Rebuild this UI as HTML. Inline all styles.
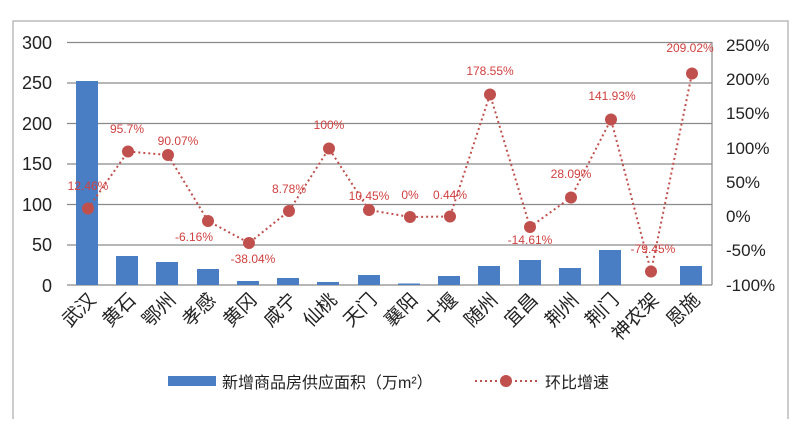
<!DOCTYPE html>
<html><head><meta charset="utf-8"><style>
body{margin:0;background:#fff;}
svg text{font-family:"Liberation Sans","Noto Sans CJK SC",sans-serif;}
</style></head><body>
<svg width="800" height="419" viewBox="0 0 800 419" xmlns="http://www.w3.org/2000/svg">
<rect x="0" y="0" width="800" height="419" fill="#fff"/>
<rect x="13" y="21" width="775" height="420" fill="none" stroke="#bbb" stroke-width="1.5"/>
<g stroke="#8a8a8a" stroke-width="1.2">
<line x1="67" y1="42.5" x2="712" y2="42.5"/>
<line x1="67" y1="83" x2="712" y2="83"/>
<line x1="67" y1="123.5" x2="712" y2="123.5"/>
<line x1="67" y1="164" x2="712" y2="164"/>
<line x1="67" y1="204.5" x2="712" y2="204.5"/>
<line x1="67" y1="245" x2="712" y2="245"/>
<line x1="67" y1="285" x2="712" y2="285"/>
<line x1="712" y1="42" x2="712" y2="285"/>
</g>
<g font-size="18" fill="#222" text-anchor="end">
<text x="52" y="49">300</text><text x="52" y="89">250</text><text x="52" y="130">200</text>
<text x="52" y="170">150</text><text x="52" y="211">100</text><text x="52" y="251">50</text><text x="52" y="292">0</text>
</g>
<g font-size="17" fill="#222">
<text x="726" y="51">250%</text><text x="726" y="85">200%</text><text x="726" y="119">150%</text>
<text x="726" y="154">100%</text><text x="726" y="188">50%</text><text x="726" y="222">0%</text>
<text x="726" y="256">-50%</text><text x="726" y="291">-100%</text>
</g>
<g fill="#4a7ec4">
<rect x="76" y="81" width="22" height="204"/>
<rect x="116" y="256" width="22" height="29"/>
<rect x="156" y="262" width="22" height="23"/>
<rect x="197" y="269" width="22" height="16"/>
<rect x="237" y="281" width="22" height="4"/>
<rect x="277" y="278" width="22" height="7"/>
<rect x="317" y="282" width="22" height="3"/>
<rect x="358" y="275" width="22" height="10"/>
<rect x="398" y="283.5" width="22" height="1.5"/>
<rect x="438" y="276" width="22" height="9"/>
<rect x="478" y="266" width="22" height="19"/>
<rect x="519" y="260" width="22" height="25"/>
<rect x="559" y="268" width="22" height="17"/>
<rect x="599" y="250" width="22" height="35"/>
<rect x="680" y="266" width="22" height="19"/>
</g>
<polyline fill="none" stroke="#c0504d" stroke-width="2" stroke-dasharray="2,3"
points="88,208.5 128,151.5 168,155 208,221 249,243 289,211 329,148.5 369,210 410,217 450,216.5 490,94.5 530,227 571,197.5 611,119.5 651,271.5 692,73.5"/>
<g fill="#c0504d">
<circle cx="88" cy="208.5" r="6"/><circle cx="128" cy="151.5" r="6"/><circle cx="168" cy="155" r="6"/>
<circle cx="208" cy="221" r="6"/><circle cx="249" cy="243" r="6"/><circle cx="289" cy="211" r="6"/>
<circle cx="329" cy="148.5" r="6"/><circle cx="369" cy="210" r="6"/><circle cx="410" cy="217" r="6"/>
<circle cx="450" cy="216.5" r="6"/><circle cx="490" cy="94.5" r="6"/><circle cx="530" cy="227" r="6"/>
<circle cx="571" cy="197.5" r="6"/><circle cx="611" cy="119.5" r="6"/><circle cx="651" cy="271.5" r="6"/>
<circle cx="692" cy="73.5" r="6"/>
</g>
<g font-size="12" fill="#d04040" text-anchor="middle">
<text x="88" y="190">12.46%</text><text x="127" y="133">95.7%</text><text x="178" y="145">90.07%</text>
<text x="194" y="241">-6.16%</text><text x="253" y="263">-38.04%</text><text x="289" y="193">8.78%</text>
<text x="329" y="129">100%</text><text x="369" y="200">10.45%</text><text x="410" y="199">0%</text>
<text x="450" y="199">0.44%</text><text x="490" y="75">178.55%</text><text x="530" y="244">-14.61%</text>
<text x="571" y="178">28.09%</text><text x="612" y="100">141.93%</text><text x="653" y="253">-79.45%</text>
<text x="690" y="52">209.02%</text>
</g>
<g font-size="19" fill="#222" text-anchor="end">
<text transform="translate(97,301) rotate(-45)">武汉</text>
<text transform="translate(137,301) rotate(-45)">黄石</text>
<text transform="translate(177,301) rotate(-45)">鄂州</text>
<text transform="translate(217,301) rotate(-45)">孝感</text>
<text transform="translate(258,301) rotate(-45)">黄冈</text>
<text transform="translate(298,301) rotate(-45)">咸宁</text>
<text transform="translate(338,301) rotate(-45)">仙桃</text>
<text transform="translate(378,301) rotate(-45)">天门</text>
<text transform="translate(419,301) rotate(-45)">襄阳</text>
<text transform="translate(459,301) rotate(-45)">十堰</text>
<text transform="translate(499,301) rotate(-45)">随州</text>
<text transform="translate(539,301) rotate(-45)">宜昌</text>
<text transform="translate(580,301) rotate(-45)">荆州</text>
<text transform="translate(620,301) rotate(-45)">荆门</text>
<text transform="translate(660,301) rotate(-45)">神农架</text>
<text transform="translate(701,301) rotate(-45)">恩施</text>
</g>
<rect x="168" y="376" width="48" height="10" fill="#4a7ec4"/>
<text x="222" y="388" font-size="16" fill="#222">新增商品房供应面积（万m²）</text>
<line x1="475" y1="381" x2="537" y2="381" stroke="#c0504d" stroke-width="2" stroke-dasharray="2,3"/>
<circle cx="506" cy="381" r="6" fill="#c0504d"/>
<text x="545" y="388" font-size="16" fill="#222">环比增速</text>
</svg>
</body></html>
